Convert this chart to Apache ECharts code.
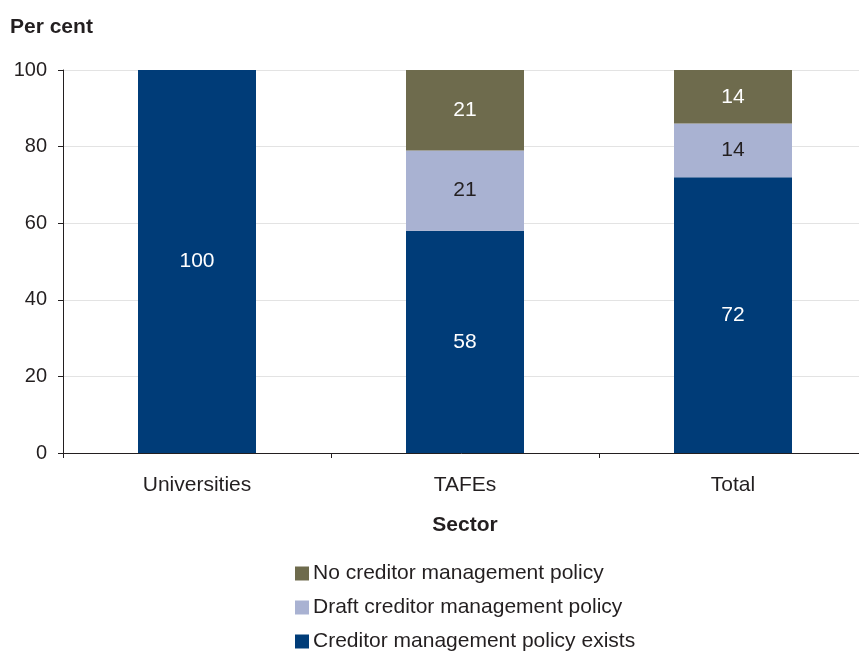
<!DOCTYPE html>
<html>
<head>
<meta charset="utf-8">
<script src="https://cdn.jsdelivr.net/npm/echarts@6/dist/echarts.min.js"></script>
<style>
  html, body { margin: 0; padding: 0; background: #fff; }
  #chart { width: 859px; height: 651px; }
</style>
</head>
<body>
<div id="chart"></div>
<script>
// Sector categories and policy status shares (per cent)
const sectors = ['Universities', 'TAFEs', 'Total'];
const policyExists = [100, 58, 72];
const draftPolicy = [null, 21, 14];
const noPolicy = [null, 21, 14];
const yTicks = [0, 20, 40, 60, 80, 100];

const seriesNames = [
  'Creditor management policy exists',
  'Draft creditor management policy',
  'No creditor management policy'
];
const seriesColors = ['#003c78', '#a9b2d2', '#6e6b4d'];
const labelColors = ['#ffffff', '#231f20', '#ffffff'];

const FONT = '"Liberation Sans", Arial, sans-serif';
const INK = '#231f20';
const chart = echarts.init(document.getElementById('chart'));

function barSeries(i, data) {
  return {
    name: seriesNames[i],
    type: 'bar',
    stack: 'sector',
    data: data,
    barWidth: 118,
    itemStyle: { color: seriesColors[i] },
    label: {
      show: true,
      position: 'inside',
      color: labelColors[i],
      fontFamily: FONT,
      fontSize: 21
    }
  };
}

// One legend row per series, listed top-down from the top of the stack
const legendRows = [2, 1, 0].map((idx, row) => ({
  data: [seriesNames[idx]],
  orient: 'vertical',
  left: 295,
  top: 563 + row * 34,
  padding: 0,
  itemWidth: 14,
  itemHeight: 14,
  icon: 'rect',
  textStyle: { fontFamily: FONT, fontSize: 21, color: INK, padding: [0, 0, 0, -1] }
}));

chart.setOption({
  animation: false,
  textStyle: { fontFamily: FONT },
  grid: { left: 63, top: 70, width: 804, height: 383, containLabel: false, outerBoundsMode: 'none' },
  legend: legendRows,
  xAxis: {
    type: 'category',
    data: sectors,
    name: 'Sector',
    nameLocation: 'middle',
    nameGap: 62,
    nameTextStyle: { fontFamily: FONT, fontSize: 21, fontWeight: 'bold', color: INK },
    axisLine: { lineStyle: { color: INK, width: 1 } },
    axisTick: { show: true, length: 5, lineStyle: { color: INK } },
    axisLabel: { fontFamily: FONT, fontSize: 21, color: INK, margin: 22 }
  },
  yAxis: {
    type: 'value',
    min: yTicks[0],
    max: yTicks[yTicks.length - 1],
    interval: yTicks[1] - yTicks[0],
    name: 'Per cent',
    nameLocation: 'end',
    nameGap: 0,
    nameTextStyle: { fontFamily: FONT, fontSize: 21, fontWeight: 'bold', color: INK, align: 'left', padding: [0, 0, 32, -53] },
    axisLine: { show: true, lineStyle: { color: INK, width: 1 } },
    axisTick: { show: true, length: 5, lineStyle: { color: INK } },
    axisLabel: { fontFamily: FONT, fontSize: 20, color: INK, margin: 16 },
    splitLine: { show: true, lineStyle: { color: '#e3e3e3', width: 1 } }
  },
  series: [
    barSeries(0, policyExists),
    barSeries(1, draftPolicy),
    barSeries(2, noPolicy)
  ]
});
</script>
</body>
</html>
